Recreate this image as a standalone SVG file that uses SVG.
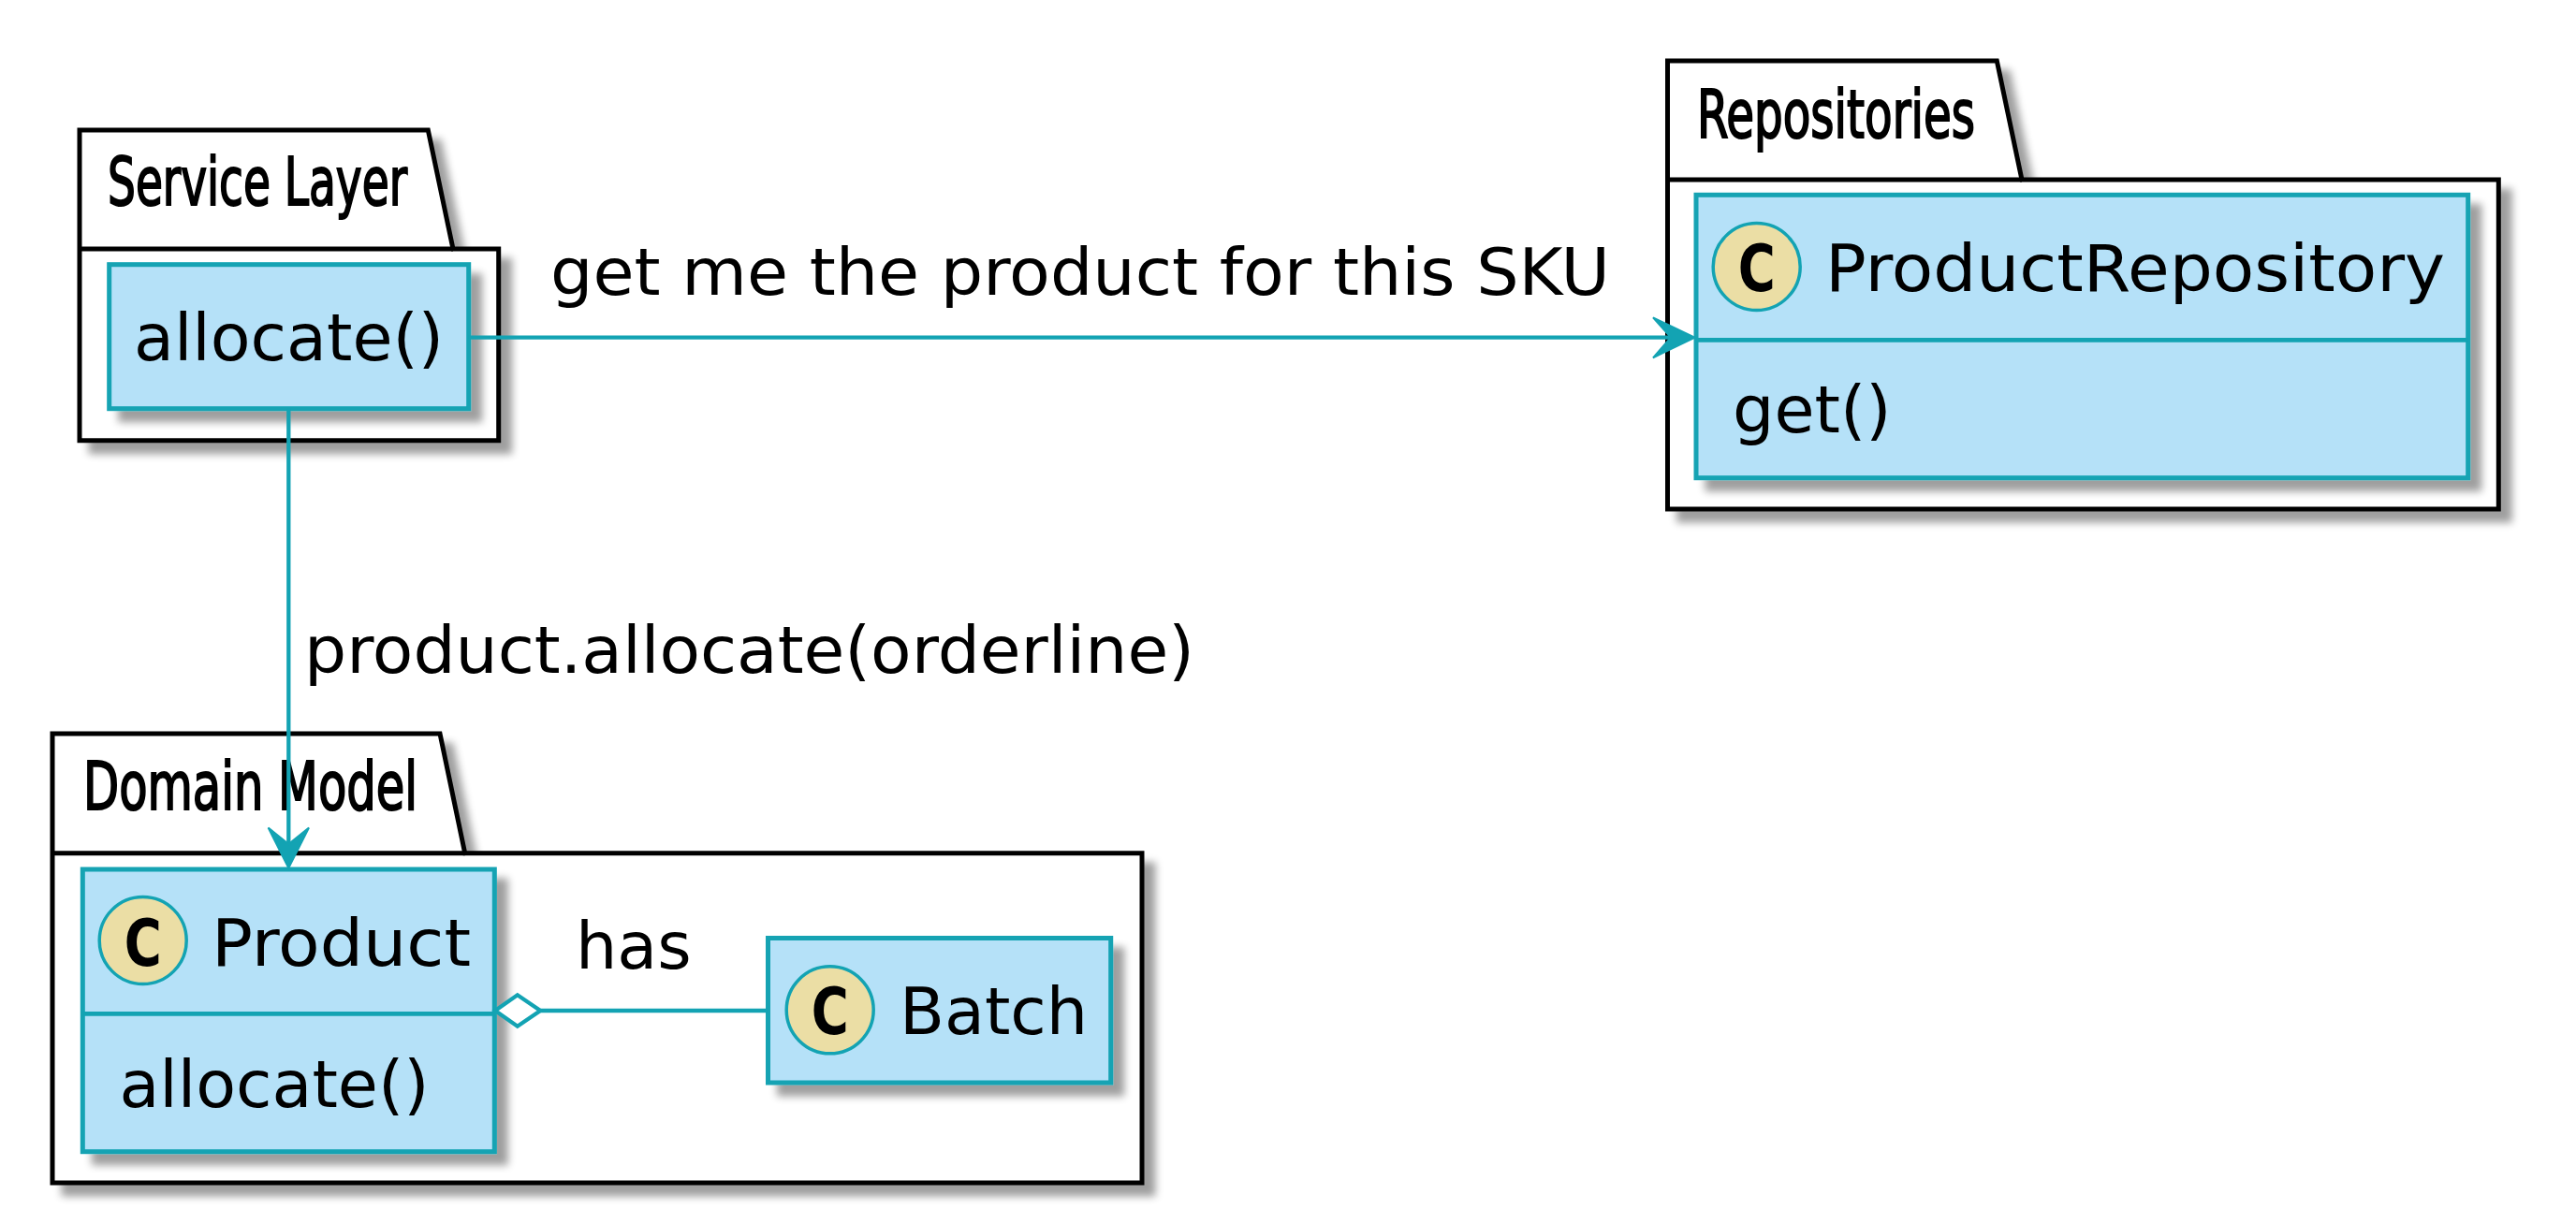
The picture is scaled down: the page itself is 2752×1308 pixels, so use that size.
<svg xmlns="http://www.w3.org/2000/svg" width="2752" height="1308" viewBox="0 0 2752 1308">
<defs>
<filter id="sh" x="-10%" y="-10%" width="130%" height="130%">
<feGaussianBlur in="SourceAlpha" stdDeviation="4"/>
<feOffset dx="12" dy="12"/>
<feComponentTransfer><feFuncA type="linear" slope="0.38"/></feComponentTransfer>
<feMerge><feMergeNode/><feMergeNode in="SourceGraphic"/></feMerge>
</filter>
<style>
.pkg{fill:#FFFFFF;stroke:#000000;stroke-width:5}
.pkgline{fill:none;stroke:#000000;stroke-width:5}
.ptitle{font-family:"DejaVu Sans Condensed","DejaVu Sans",sans-serif;font-weight:normal;font-size:72px;fill:#000000;stroke:#000000;stroke-width:2}
.cls{fill:#B5E1F8;stroke:#13A3B3;stroke-width:5}
.div{stroke:#13A3B3;stroke-width:4.7;fill:none}
.spot{fill:#EBDEA5;stroke:#13A3B3;stroke-width:3.5}
.spotc{font-family:"DejaVu Sans Condensed","DejaVu Sans",sans-serif;font-weight:bold;font-size:70px;fill:#000000}
.txt{font-family:"DejaVu Sans",sans-serif;font-size:70px;fill:#000000}
.edge{stroke:#13A3B3;stroke-width:4.3;fill:none}
.head{fill:#13A3B3;stroke:#13A3B3;stroke-width:2}
.dia{fill:#FFFFFF;stroke:#13A3B3;stroke-width:4.3}
</style>
</defs>
<rect width="2752" height="1308" fill="#FFFFFF"/>

<g id="pkg-service-layer">
<path class="pkg" filter="url(#sh)" d="M85,139 L457.3,139 L484,266 L532.7,266 L532.7,470.7 L85,470.7 Z"/>
<path class="pkgline" d="M85,266 L484,266"/>
<text class="ptitle" x="115" y="219" textLength="320" lengthAdjust="spacingAndGlyphs">Service Layer</text>
</g>

<g id="pkg-repositories">
<path class="pkg" filter="url(#sh)" d="M1781.5,65 L2133.3,65 L2160,192 L2669.3,192 L2669.3,544 L1781.5,544 Z"/>
<path class="pkgline" d="M1781.5,192 L2160,192"/>
<text class="ptitle" x="1813" y="146.7" textLength="297" lengthAdjust="spacingAndGlyphs">Repositories</text>
</g>

<g id="pkg-domain-model">
<path class="pkg" filter="url(#sh)" d="M56,784 L470,784 L496.7,911.7 L1220,911.7 L1220,1264 L56,1264 Z"/>
<path class="pkgline" d="M56,911.7 L496.7,911.7"/>
<text class="ptitle" x="89" y="865" textLength="357" lengthAdjust="spacingAndGlyphs">Domain Model</text>
</g>

<g id="node-service-allocate">
<rect class="cls" filter="url(#sh)" x="116.7" y="282.7" width="384" height="154"/>
<text class="txt" x="143" y="385">allocate()</text>
</g>

<g id="node-product-repository">
<rect class="cls" filter="url(#sh)" x="1812" y="208.3" width="824.7" height="302.4"/>
<path class="div" d="M1812,363.3 L2636.7,363.3"/>
<circle class="spot" cx="1876.7" cy="285" r="46.5"/>
<text class="spotc" x="1856.7" y="311" textLength="40" lengthAdjust="spacingAndGlyphs">C</text>
<text class="txt" x="1950" y="311" textLength="662" lengthAdjust="spacingAndGlyphs">ProductRepository</text>
<text class="txt" x="1851" y="461.7">get()</text>
</g>

<g id="node-product">
<rect class="cls" filter="url(#sh)" x="88.3" y="929" width="440" height="301.7"/>
<path class="div" d="M88.3,1083.3 L528.3,1083.3"/>
<circle class="spot" cx="152.7" cy="1005" r="46.5"/>
<text class="spotc" x="132.7" y="1031.5" textLength="40" lengthAdjust="spacingAndGlyphs">C</text>
<text class="txt" x="226" y="1031.5" textLength="277" lengthAdjust="spacingAndGlyphs">Product</text>
<text class="txt" x="127.4" y="1183">allocate()</text>
</g>

<g id="node-batch">
<rect class="cls" filter="url(#sh)" x="820.5" y="1002.5" width="366.2" height="154.5"/>
<circle class="spot" cx="886.7" cy="1079.3" r="46.5"/>
<text class="spotc" x="866.7" y="1105" textLength="40" lengthAdjust="spacingAndGlyphs">C</text>
<text class="txt" x="961" y="1105">Batch</text>
</g>

<g id="connectors">
<path class="edge" d="M500.7,360.7 L1786,360.7"/>
<polygon class="head" points="1810.5,360.7 1766,339.3 1785,360.7 1766,382.3"/>
<text class="txt" x="588" y="315" textLength="1132" lengthAdjust="spacingAndGlyphs">get me the product for this SKU</text>

<path class="edge" d="M308.3,436.7 L308.3,903"/>
<polygon class="head" points="308.3,927.5 286.6,884.5 308.3,902 330,884.5"/>
<text class="txt" x="325" y="719" textLength="951" lengthAdjust="spacingAndGlyphs">product.allocate(orderline)</text>

<path class="edge" d="M577.3,1080 L820.5,1080"/>
<polygon class="dia" points="529,1080 552.8,1063.3 577.3,1080 552.8,1096.7"/>
<text class="txt" x="615" y="1035">has</text>
</g>
</svg>
